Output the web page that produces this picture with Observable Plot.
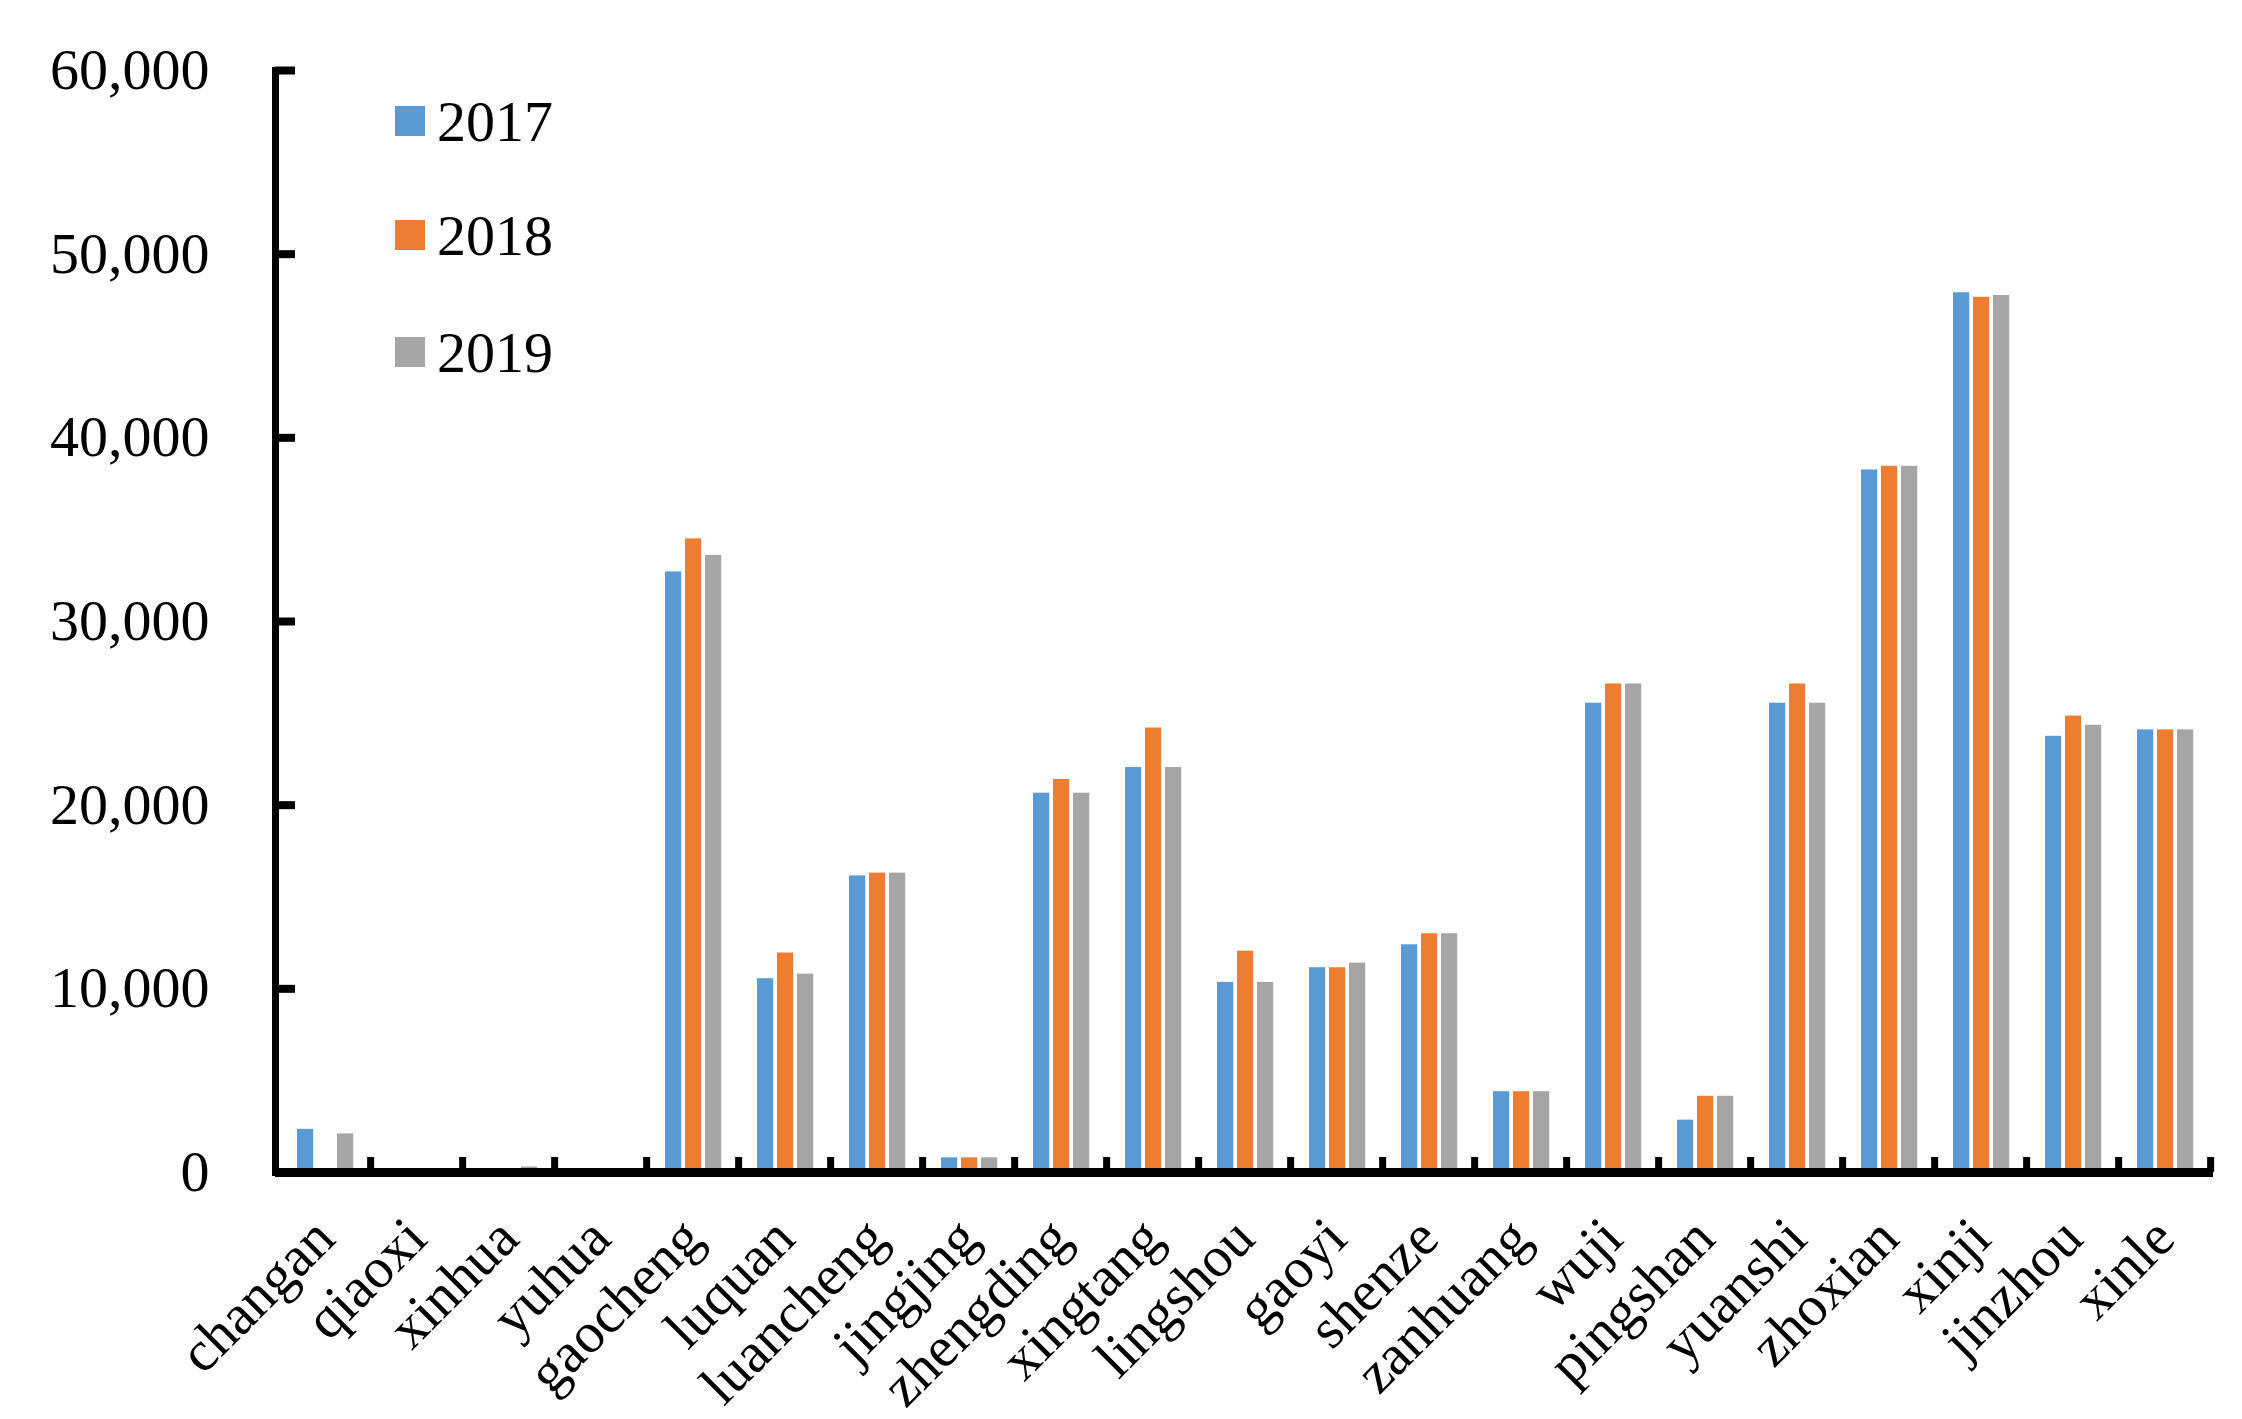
<!DOCTYPE html>
<html>
<head>
<meta charset="utf-8">
<script src="https://cdn.jsdelivr.net/npm/d3@7"></script>
<script src="https://cdn.jsdelivr.net/npm/@observablehq/plot@0.6"></script>
<style>
  html, body { margin: 0; padding: 0; background: #fff; }
  #wrap { position: relative; width: 2242px; height: 1419px; }
  #legend { position: absolute; left: 395px; top: 0; font-family: "Liberation Serif", serif; font-size: 58px; color: #000; }
  .item { position: absolute; left: 0; display: flex; align-items: center; white-space: nowrap; }
  .sw { width: 30px; height: 30px; margin-right: 12px; }
</style>
</head>
<body>
<div id="wrap"><div id="legend"></div></div>
<script>
const counties = ["changan","qiaoxi","xinhua","yuhua","gaocheng","luquan","luancheng","jingjing","zhengding","xingtang","lingshou","gaoyi","shenze","zanhuang","wuji","pingshan","yuanshi","zhoxian","xinji","jinzhou","xinle"];
const years = ["2017","2018","2019"];
const v2017 = [2350,0,0,0,32700,10550,16150,800,20650,22050,10350,11150,12400,4400,25550,2850,25550,38250,47900,23750,24100];
const v2018 = [0,0,0,0,34500,11950,16300,800,21400,24200,12050,11150,13000,4400,26600,4150,26600,38450,47650,24850,24100];
const v2019 = [2100,0,300,0,33600,10800,16300,800,20650,22050,10350,11400,13000,4400,26600,4150,25550,38450,47750,24350,24100];
const yTicks = [0,10000,20000,30000,40000,50000,60000];
const colors = ["#5B9BD5","#ED7D31","#A5A5A5"];

const series = [v2017, v2018, v2019];
const data = [];
years.forEach((y, k) => counties.forEach((c, i) => data.push({county: c, year: y, value: series[k][i]})));

const W = 2242, H = 1419;
const mL = 275, mR = 29, mT = 70, mB = 247;
const bw = (W - mL - mR) / counties.length;
const barW = 16.5, gap = 3.5, padL = 19;
const font = "'Liberation Serif', 'Times New Roman', serif";

const barMarks = years.map((y, k) => {
  const left = padL + k * (barW + gap);
  return Plot.barY(data.filter(d => d.year === y), {
    x: "county", y: "value", fill: "year",
    insetLeft: left, insetRight: bw - left - barW
  });
});

const chart = Plot.plot({
  width: W, height: H,
  marginLeft: mL, marginRight: mR, marginTop: mT, marginBottom: mB,
  style: {fontFamily: font, fontSize: "58px", color: "#000", background: "#fff"},
  x: {type: "band", domain: counties, padding: 0, axis: null, label: null},
  y: {domain: [0, 60000], axis: null, label: null},
  color: {domain: years, range: colors},
  marks: [
    ...barMarks,
    Plot.axisY({ticks: yTicks, tickSize: -20, tickFormat: () => "", label: null, strokeWidth: 8, stroke: "#000"}),
    Plot.axisY({ticks: yTicks, tickSize: 0, tickPadding: 66, tickFormat: d3.format(","), label: null, fontSize: 58, fontFamily: font, fill: "#000"}),
    Plot.axisX({tickSize: -15, tickFormat: () => "", label: null, dx: bw / 2, strokeWidth: 7, stroke: "#000"}),
    Plot.axisX({tickSize: 0, tickPadding: 56, tickRotate: -45, label: null, fontSize: 57, fontFamily: font, fill: "#000"}),
    Plot.frame({anchor: "left", strokeWidth: 7, stroke: "#000"}),
    Plot.ruleY([0], {strokeWidth: 9, stroke: "#000"})
  ]
});
document.getElementById("wrap").prepend(chart);

const legend = document.getElementById("legend");
const rowsY = [121, 235, 352];
years.forEach((y, k) => {
  const it = document.createElement("div");
  it.className = "item";
  it.style.top = (rowsY[k] - 35) + "px";
  it.style.height = "70px";
  it.innerHTML = `<div class="sw" style="background:${colors[k]}"></div><span>${y}</span>`;
  legend.appendChild(it);
});
</script>
</body>
</html>
